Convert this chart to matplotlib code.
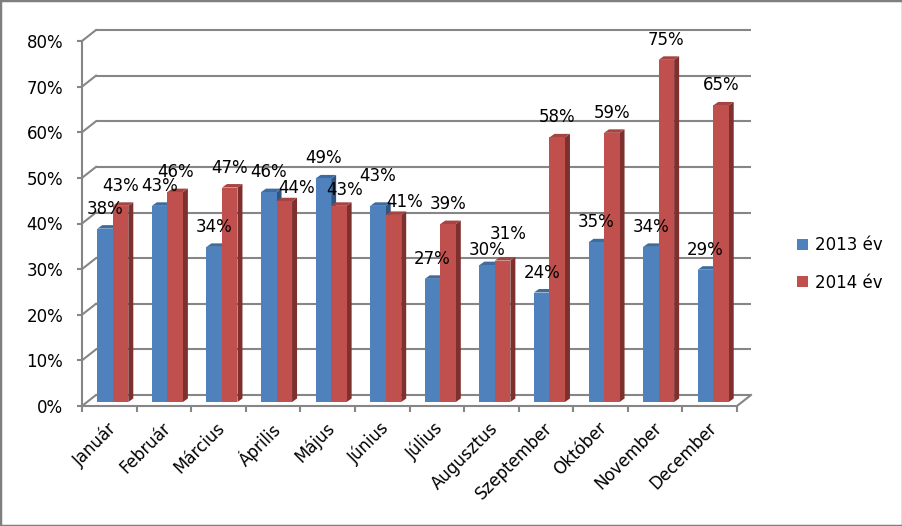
import matplotlib
matplotlib.use("Agg")
import matplotlib.pyplot as plt
import matplotlib.transforms as mtransforms
from matplotlib.patches import Polygon, Patch, Rectangle

# adatok
honapok = ["Január", "Február", "Március", "Április", "Május", "Június",
           "Július", "Augusztus", "Szeptember", "Október", "November", "December"]
ev2013 = [38, 43, 34, 46, 49, 43, 27, 30, 24, 35, 34, 29]
ev2014 = [43, 46, 47, 44, 43, 41, 39, 31, 58, 59, 75, 65]
sorozatok = ["2013 év", "2014 év"]
yticks = [0, 10, 20, 30, 40, 50, 60, 70, 80]

# kezzel arrebb tett cimkek (honap index, sorozat) -> (dx, dy) pixelben
cimke_eltolas = {(3, 1): (12, -7), (4, 1): (6, -4), (5, 0): (0, 10),
                 (5, 1): (11, -7), (7, 0): (0, -5), (7, 1): (6, 7)}

kek = "#4F81BD"
kek_teto = "#3E6C9F"
kek_oldal = "#2F5580"
piros = "#C0504D"
piros_teto = "#A64441"
piros_oldal = "#7D302E"
racs = "#868686"

W, H = 903, 526
fig = plt.figure(figsize=(W / 100, H / 100), dpi=100)
ax = fig.add_axes([82 / W, 120 / H, 655 / W, 365 / H])
ax.set_xlim(-0.5, 11.5)
ax.set_ylim(0, 80)

# pixel -> adat egysegek
px_x = 655 / 12.0
px_y = 365 / 80.0

# hatso fal eltolas
bdx, bdy = 14 / px_x, 11 / px_y
for v in yticks:
    ax.plot([-0.5 + bdx, 11.5 + bdx], [v + bdy, v + bdy], color=racs, lw=1.5,
            clip_on=False, zorder=1, solid_capstyle="butt")
    ax.plot([-0.5, -0.5 + bdx], [v, v + bdy], color=racs, lw=1.5,
            clip_on=False, zorder=1)
ax.plot([11.5, 11.5 + bdx], [0, bdy], color=racs, lw=1.5, clip_on=False, zorder=1)

# oszlopok
sx, sy = 3.5 / px_x, 4 / px_y
w = 15.5 / px_x
ddx, ddy = 5 / px_x, 3.5 / px_y

for i in range(len(honapok)):
    for k, (vals, c_front, c_top, c_side) in enumerate([
            (ev2013, kek, kek_teto, kek_oldal),
            (ev2014, piros, piros_teto, piros_oldal)]):
        v = vals[i]
        xl = i - w + k * w + sx
        xr = xl + w
        y0 = sy
        y1 = v + sy
        ax.add_patch(Polygon([(xr, y0), (xr + ddx, y0 + ddy), (xr + ddx, y1 + ddy), (xr, y1)],
                             closed=True, fc=c_side, ec="none", clip_on=False, zorder=3))
        ax.add_patch(Polygon([(xl, y1), (xl + ddx, y1 + ddy), (xr + ddx, y1 + ddy), (xr, y1)],
                             closed=True, fc=c_top, ec="none", clip_on=False, zorder=3))
        ax.add_patch(Rectangle((xl, y0), w, v, fc=c_front, ec="none", clip_on=False, zorder=3))
        ex, ey = cimke_eltolas.get((i, k), (0, 0))
        ax.annotate(f"{v}%", xy=((xl + xr) / 2, y1),
                    xytext=(ex * 0.72, (15 + ey) * 0.72),
                    textcoords="offset points", ha="center", va="baseline",
                    fontsize=12, color="black", zorder=5, annotation_clip=False)

# tengelyek
for s in ["top", "right"]:
    ax.spines[s].set_visible(False)
for s in ["left", "bottom"]:
    ax.spines[s].set_color(racs)
    ax.spines[s].set_linewidth(1.5)
ax.set_yticks(yticks)
ax.set_yticklabels([f"{v}%" for v in yticks], fontsize=12)
ax.tick_params(axis="y", length=3.6, width=1.5, color=racs, pad=10)
ax.set_xticks([i - 0.5 for i in range(13)])
ax.set_xticklabels([])
ax.tick_params(axis="x", which="major", length=4.5, width=1.5, color=racs)
ax.set_xticks(range(12), minor=True)
ax.set_xticklabels(honapok, minor=True, rotation=45, ha="right",
                   rotation_mode="anchor", fontsize=12)
ax.tick_params(axis="x", which="minor", length=0, pad=9.5)
eltol = mtransforms.ScaledTranslation(-2.5 / 100, 0, fig.dpi_scale_trans)
for lab in ax.get_xticklabels(minor=True):
    lab.set_transform(lab.get_transform() + eltol)

# jelmagyarazat
kezelok = [Patch(fc=kek, ec="none"), Patch(fc=piros, ec="none")]
fig.legend(kezelok, sorozatok, loc="center left", bbox_to_anchor=(797 / W, 1 - 264 / H),
           frameon=False, fontsize=12, handlelength=0.66, handleheight=0.66,
           handletextpad=0.4, labelspacing=1.15, borderpad=0, borderaxespad=0)

# keret
fig.patches.append(Rectangle((0, 0), 1, 1, transform=fig.transFigure, fill=False,
                             ec="#7f7f7f", lw=2.5))

fig.savefig("out.png", dpi=100)
